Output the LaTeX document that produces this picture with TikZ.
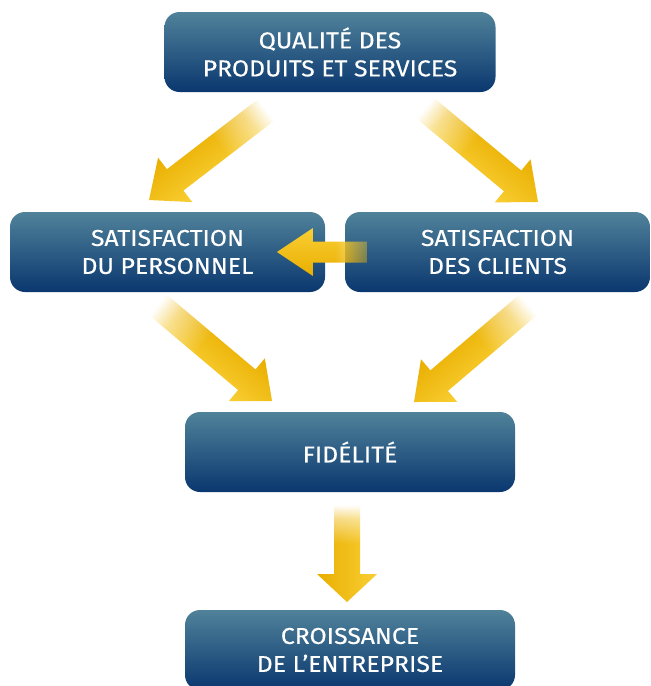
\documentclass[tikz,border=0pt]{standalone}
\usepackage{fontspec}
\setmainfont{Fira Sans}[FakeStretch=1.08,FakeBold=0.3]
\usetikzlibrary{fadings}
\definecolor{boxtop}{HTML}{50829A}
\definecolor{boxbot}{HTML}{0A376F}
\definecolor{gdark}{HTML}{E9AE00}
\definecolor{glight}{HTML}{F9CF34}
\pgfdeclarehorizontalshading{tfsA}{100bp}{color(0bp)=(black); color(25bp)=(black); color(32bp)=(black!50); color(45bp)=(white); color(100bp)=(white)}
\pgfdeclarefading{tailfade}{\pgfuseshading{tfsA}}
\pgfdeclarehorizontalshading{tfsB}{100bp}{color(0bp)=(black!60); color(25bp)=(black!60); color(43bp)=(white); color(100bp)=(white)}
\pgfdeclarefading{tailfadeB}{\pgfuseshading{tfsB}}
\newcommand\goldarrow[8]{%
  \pgfpointdiff{\pgfpointanchor{#1}{center}}{\pgfpointanchor{#2}{center}}%
  \pgfgetlastxy{\gdx}{\gdy}%
  \pgfmathsetmacro\gang{atan2(\gdy,\gdx)}%
  \pgfmathsetmacro\glen{veclen(\gdx,\gdy)}%
  \pgfmathsetmacro\gbase{\glen-#5}%
  \begin{scope}[transform canvas={shift={(#1)},rotate=\gang}]
    \shade[path fading=#8, top color=#6, bottom color=#7]
      (0pt,-#3pt) -- (\gbase pt,-#3pt) -- (\gbase pt,-#4pt) -- (\glen pt,0pt)
      -- (\gbase pt,#4pt) -- (\gbase pt,#3pt) -- (0pt,#3pt) -- cycle;
  \end{scope}}
\tikzset{
  box/.style={rounded corners=15pt, top color=boxtop, bottom color=boxbot,
    text=white, align=center, inner sep=0pt,
    font=\fontsize{23}{28}\selectfont}
}
\begin{document}
\begin{tikzpicture}[x=1pt,y=-1pt]
\useasboundingbox (0,0) rectangle (651,686);
\fill[white] (0,0) rectangle (651,686);
\clip (0,0) rectangle (651,686);

\node[box, minimum width=331pt, minimum height=80pt] (q) at (330,52) {QUALITÉ DES\\PRODUITS ET SERVICES};
\node[box, minimum width=315pt, minimum height=80pt] (sp) at (167.5,252) {SATISFACTION\\DU PERSONNEL};
\node[box, minimum width=305pt, minimum height=80pt] (sc) at (497.5,252) {SATISFACTION\\DES CLIENTS};
\node[box, minimum width=330pt, minimum height=80pt] (f) at (350,452) {FIDÉLITÉ};
\node[box, minimum width=330pt, minimum height=80pt] (c) at (350,650) {CROISSANCE\\DE L’ENTREPRISE};

\coordinate (a1s) at (266,110); \coordinate (a1e) at (149,200);
\coordinate (a2s) at (425,108); \coordinate (a2e) at (538,202);
\coordinate (a3s) at (158,305); \coordinate (a3e) at (272,401);
\coordinate (a4s) at (528,305); \coordinate (a4e) at (414,402);
\coordinate (a5s) at (347,505); \coordinate (a5e) at (347,602);
\coordinate (a6s) at (367,252); \coordinate (a6e) at (277,252);

\goldarrow{a1s}{a1e}{13.5}{28}{33}{glight}{gdark}{tailfade}
\goldarrow{a2s}{a2e}{13.5}{28}{33}{gdark}{glight}{tailfade}
\goldarrow{a3s}{a3e}{13.5}{28}{33}{gdark}{glight}{tailfade}
\goldarrow{a4s}{a4e}{13.5}{28}{33}{glight}{gdark}{tailfade}
\goldarrow{a5s}{a5e}{13}{30}{28}{glight}{gdark}{tailfade}
\goldarrow{a6s}{a6e}{10.5}{24}{36}{gdark}{glight}{tailfadeB}
\end{tikzpicture}
\end{document}
